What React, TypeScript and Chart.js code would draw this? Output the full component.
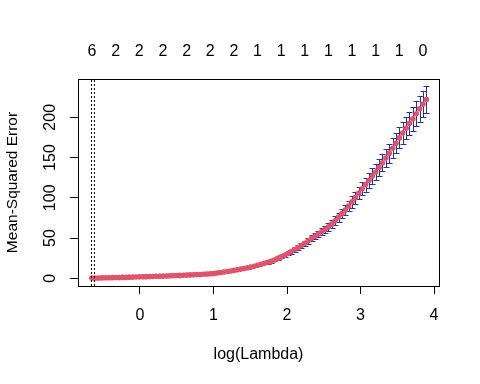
import React, { useEffect, useRef } from 'react';
import { Chart, registerables } from 'chart.js';

Chart.register(...registerables);

// log(lambda) sequence (x values of the CV points)
const logLambda = [
  -0.653, -0.607, -0.561, -0.515, -0.469, -0.423, -0.377, -0.331, -0.285, -0.239,
  -0.194, -0.148, -0.102, -0.056, -0.010, 0.036, 0.082, 0.128, 0.174, 0.220,
  0.266, 0.312, 0.358, 0.404, 0.450, 0.496, 0.542, 0.588, 0.634, 0.680,
  0.726, 0.771, 0.817, 0.863, 0.909, 0.955, 1.001, 1.047, 1.093, 1.139,
  1.185, 1.231, 1.277, 1.323, 1.369, 1.415, 1.461, 1.507, 1.553, 1.599,
  1.645, 1.690, 1.736, 1.782, 1.828, 1.874, 1.920, 1.966, 2.012, 2.058,
  2.104, 2.150, 2.196, 2.242, 2.288, 2.334, 2.380, 2.426, 2.472, 2.518,
  2.564, 2.609, 2.655, 2.701, 2.747, 2.793, 2.839, 2.885, 2.931, 2.977,
  3.023, 3.069, 3.115, 3.161, 3.207, 3.253, 3.299, 3.345, 3.391, 3.437,
  3.483, 3.528, 3.574, 3.620, 3.666, 3.712, 3.758, 3.804, 3.850, 3.896,
];

// mean cross-validated error
const cvm = [
  0.3, 0.38, 0.46, 0.55, 0.63, 0.7, 0.8, 0.9, 1.0, 1.1,
  1.2, 1.4, 1.5, 1.65, 1.8, 1.9, 2.05, 2.2, 2.3, 2.45,
  2.6, 2.75, 2.9, 3.1, 3.3, 3.45, 3.6, 3.8, 4.0, 4.2,
  4.4, 4.6, 4.8, 5.1, 5.4, 5.7, 6.0, 6.6, 7.2, 7.8,
  8.4, 9.0, 9.8, 10.6, 11.4, 12.2, 13.0, 13.9, 15.0, 16.2,
  17.4, 18.6, 19.8, 21.0, 22.8, 24.7, 26.6, 28.6, 30.8, 33.2,
  35.7, 38.2, 40.8, 43.6, 46.5, 49.5, 52.2, 55.0, 57.7, 60.5,
  64.0, 67.3, 71.5, 76.0, 80.4, 84.8, 89.8, 95.0, 100.3, 105.8,
  111.2, 116.5, 121.7, 127.0, 132.0, 137.6, 143.5, 149.5, 155.5, 161.6,
  167.8, 174.4, 180.5, 186.5, 192.5, 198.3, 204.5, 210.5, 216.5, 222.0,
];

// standard error of the CV error
const cvsd = [
  0.1, 0.1, 0.1, 0.1, 0.1, 0.1, 0.1, 0.1, 0.1, 0.1,
  0.1, 0.1, 0.1, 0.1, 0.1, 0.1, 0.2, 0.2, 0.2, 0.2,
  0.2, 0.2, 0.2, 0.2, 0.2, 0.3, 0.3, 0.3, 0.3, 0.3,
  0.3, 0.3, 0.4, 0.4, 0.4, 0.4, 0.5, 0.5, 0.5, 0.6,
  0.6, 0.7, 0.7, 0.8, 0.9, 0.9, 1.0, 1.0, 1.1, 1.2,
  1.3, 1.4, 1.5, 1.6, 1.7, 1.9, 2.0, 2.1, 2.3, 2.5,
  2.7, 2.9, 3.1, 3.3, 3.5, 3.7, 3.9, 4.1, 4.3, 4.5,
  4.8, 5.0, 5.4, 5.7, 6.0, 6.4, 6.7, 7.1, 7.5, 7.9,
  8.3, 8.7, 9.1, 9.5, 9.9, 10.3, 10.8, 11.2, 11.7, 12.1,
  12.6, 13.1, 13.5, 14.0, 14.4, 14.9, 15.3, 15.8, 16.2, 16.5,
];

// number of non-zero coefficients (top axis)
const topAt = [-0.653, -0.331, -0.010, 0.312, 0.634, 0.955, 1.277, 1.599, 1.920, 2.242, 2.564, 2.885, 3.207, 3.528, 3.850];
const topLabels = ['6', '2', '2', '2', '2', '2', '2', '1', '1', '1', '1', '1', '1', '1', '0'];

const xTicks = [0, 1, 2, 3, 4];
const yTicks = [0, 50, 100, 150, 200];

const lambdaMinLog = -0.66;
const lambda1seLog = -0.62;

const X_MIN = -0.8435;
const X_MAX = 4.068;
const Y_MIN = -9.57;
const Y_MAX = 247.6;

const FONT = { family: "'Liberation Sans', Arial, sans-serif", size: 16 };
const TITLE_FONT = { family: "'Liberation Sans', Arial, sans-serif", size: 15.5 };
const BAR_HALF = 0.046;
const POINT_COLOR = '#DF536B';
const BAR_COLOR = '#2233aa';

const errorBarsPlugin = {
  id: 'errorBars',
  beforeDatasetsDraw(chart: any) {
    const { ctx } = chart;
    const x = chart.scales.x;
    const y = chart.scales.y;
    const bw = Math.round(x.getPixelForValue(BAR_HALF) - x.getPixelForValue(0));
    ctx.save();
    ctx.strokeStyle = BAR_COLOR;
    ctx.lineWidth = 1;
    ctx.beginPath();
    for (let i = 0; i < logLambda.length; i++) {
      const px = Math.round(x.getPixelForValue(logLambda[i])) + 0.5;
      const up = Math.round(y.getPixelForValue(cvm[i] + cvsd[i])) + 0.5;
      const lo = Math.round(y.getPixelForValue(cvm[i] - cvsd[i])) + 0.5;
      ctx.moveTo(px, up);
      ctx.lineTo(px, lo);
      ctx.moveTo(px - bw, up);
      ctx.lineTo(px + bw, up);
      ctx.moveTo(px - bw, lo);
      ctx.lineTo(px + bw, lo);
    }
    ctx.stroke();
    ctx.restore();
  },
};

const boxPlugin = {
  id: 'boxFrame',
  afterDraw(chart: any) {
    const { ctx, chartArea } = chart;
    ctx.save();
    ctx.strokeStyle = '#000';
    ctx.lineWidth = 1;
    const l = Math.round(chartArea.left) + 0.5;
    const t = Math.round(chartArea.top) + 0.5;
    const r = Math.round(chartArea.right) + 0.5;
    const b = Math.round(chartArea.bottom) + 0.5;
    ctx.strokeRect(l, t, r - l, b - t);
    ctx.restore();
  },
};

export default function App() {
  const canvasRef = useRef<HTMLCanvasElement | null>(null);

  useEffect(() => {
    if (!canvasRef.current) return;
    const vline = (v: number) => ({
      type: 'scatter' as const,
      data: [
        { x: v, y: Y_MIN },
        { x: v, y: Y_MAX },
      ],
      showLine: true,
      borderColor: '#000',
      borderWidth: 1,
      borderDash: [2, 2],
      pointRadius: 0,
      xAxisID: 'x',
      yAxisID: 'y',
    });
    const chart = new Chart(canvasRef.current, {
      type: 'scatter',
      data: {
        datasets: [
          vline(lambdaMinLog),
          vline(lambda1seLog),
          {
            data: logLambda.map((v, i) => ({ x: v, y: cvm[i] })),
            backgroundColor: POINT_COLOR,
            borderColor: POINT_COLOR,
            pointRadius: 2.8,
            pointBorderWidth: 0,
            showLine: false,
            xAxisID: 'x',
            yAxisID: 'y',
          },
        ],
      },
      options: {
        animation: false,
        responsive: false,
        maintainAspectRatio: false,
        layout: { padding: { left: 0, top: 0, right: 41, bottom: 0 } },
        plugins: { legend: { display: false }, tooltip: { enabled: false } },
        scales: {
          x: {
            type: 'linear',
            position: 'bottom',
            min: X_MIN,
            max: X_MAX,
            afterBuildTicks: (s: any) => {
              s.ticks = xTicks.map((v) => ({ value: v }));
            },
            afterFit: (s: any) => {
              s.height = 98;
            },
            grid: { drawOnChartArea: false, drawTicks: true, tickLength: 8, color: '#000', lineWidth: 1 },
            border: { display: false },
            ticks: { color: '#000', font: FONT, padding: 12, maxRotation: 0, autoSkip: false },
            title: { display: true, text: 'log(Lambda)', color: '#000', font: FONT, padding: { top: 0, bottom: 20 } },
          },
          xTop: {
            type: 'linear',
            position: 'top',
            min: X_MIN,
            max: X_MAX,
            afterBuildTicks: (s: any) => {
              s.ticks = topAt.map((v) => ({ value: v }));
            },
            afterFit: (s: any) => {
              s.height = 79;
            },
            grid: { display: false, drawTicks: false },
            border: { display: false },
            ticks: {
              color: '#000',
              font: FONT,
              padding: 18,
              maxRotation: 0,
              autoSkip: false,
              callback: (_v: any, i: number) => topLabels[i],
            },
          },
          y: {
            type: 'linear',
            position: 'left',
            min: Y_MIN,
            max: Y_MAX,
            afterBuildTicks: (s: any) => {
              s.ticks = yTicks.map((v) => ({ value: v }));
            },
            afterFit: (s: any) => {
              s.width = 78;
            },
            grid: { drawOnChartArea: false, drawTicks: true, tickLength: 8, color: '#000', lineWidth: 1 },
            border: { display: false },
            ticks: {
              color: '#000',
              font: FONT,
              padding: 6,
              minRotation: 90,
              maxRotation: 90,
              crossAlign: 'center',
              autoSkip: false,
            },
            title: { display: true, text: 'Mean-Squared Error', color: '#000', font: TITLE_FONT, padding: { top: 3, bottom: 0 } },
          },
        },
      } as any,
      plugins: [errorBarsPlugin, boxPlugin],
    });
    return () => chart.destroy();
  }, []);

  return (
    <div style={{ position: 'absolute', left: 0, top: 0, width: 480, height: 384, background: '#fff' }}>
      <canvas ref={canvasRef} width={480} height={384} style={{ width: 480, height: 384 }} />
    </div>
  );
}
